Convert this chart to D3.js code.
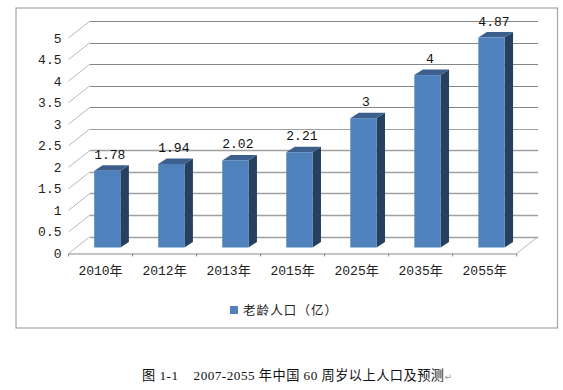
<!DOCTYPE html>
<html><head><meta charset="utf-8">
<script src="https://cdnjs.cloudflare.com/ajax/libs/d3/7.8.5/d3.min.js"></script>
<style>html,body{margin:0;padding:0;background:#fff}svg{display:block}</style></head>
<body><svg id="c" width="563" height="390"></svg>
<script>
const categories=["2010年","2012年","2013年","2015年","2025年","2035年","2055年"];
const values=[1.78,1.94,2.02,2.21,3,4,4.87];
const valueLabels=["1.78","1.94","2.02","2.21","3","4","4.87"];
const yTicks=[0,0.5,1,1.5,2,2.5,3,3.5,4,4.5,5];
const seriesName="老龄人口（亿）";
const caption="图 1-1    2007-2055 年中国 60 周岁以上人口及预测";

const svg=d3.select("#c");
const mono="'Liberation Mono','Noto Sans CJK SC',monospace";
const cjk="'Noto Sans CJK SC',sans-serif";
const x=d3.scaleBand().domain(categories).range([68.5,516.7]);
const y=d3.scaleLinear().domain([0,5]).range([253.5,38]);
const wallDx=21.5,wallDy=-17;
const barDx=8.5,barDy=-5.5,barW=26.2,barFrontDy=-6;

svg.append("rect").attr("x",16).attr("y",8).attr("width",541.5).attr("height",320)
  .attr("fill","#fff").attr("stroke","#a6a6a6").attr("stroke-width",1.2);

const grid=svg.append("g");
grid.selectAll("line.h").data(yTicks).join("line").attr("class","h")
  .attr("x1",x.range()[0]+wallDx).attr("x2",x.range()[1]+wallDx)
  .attr("y1",d=>Math.round(y(d)+wallDy)+.5).attr("y2",d=>Math.round(y(d)+wallDy)+.5)
  .attr("stroke",d=>d<=2.5?"#a0a0a0":"#868686").attr("stroke-width",d=>d<=2?1.4:1);
grid.selectAll("line.d").data(yTicks).join("line").attr("class","d")
  .attr("x1",x.range()[0]).attr("x2",x.range()[0]+wallDx)
  .attr("y1",d=>y(d)).attr("y2",d=>y(d)+wallDy)
  .attr("stroke","#b0b0b0").attr("stroke-width",.9);
grid.append("line").attr("x1",x.range()[1]).attr("x2",x.range()[1]+wallDx)
  .attr("y1",y(0)).attr("y2",y(0)+wallDy).attr("stroke","#b0b0b0").attr("stroke-width",.9);

const axisX=d3.axisBottom(x).tickSize(0).tickPadding(0);
const gx=svg.append("g").attr("transform",`translate(0,${y(0)})`).call(axisX);
gx.select(".domain").attr("stroke","#8a8a8a").attr("stroke-width",1.2);
gx.selectAll(".tick").remove();
gx.selectAll("line.t").data(categories.map((c,i)=>x.range()[0]+i*x.step()).concat(x.range()[1]))
  .join("line").attr("class","t").attr("x1",d=>d).attr("x2",d=>d).attr("y1",0).attr("y2",3)
  .attr("stroke","#8a8a8a");
gx.selectAll("text.l").data(categories).join("text").attr("class","l")
  .attr("x",d=>x(d)+x.bandwidth()/2).attr("y",21.5).attr("text-anchor","middle")
  .attr("font-family",mono).attr("font-size",13).attr("fill","#222").text(d=>d);

svg.append("g").selectAll("text").data(yTicks).join("text")
  .attr("x",61.5).attr("y",d=>y(d)+4.5).attr("text-anchor","end")
  .attr("font-family",mono).attr("font-size",13).attr("fill","#222").text(d=>String(d));

const bars=svg.append("g").selectAll("g").data(categories.map((c,i)=>({c,v:values[i],t:valueLabels[i]}))).join("g")
  .attr("transform",d=>`translate(${x(d.c)+25.7},${barFrontDy})`);
bars.append("path").attr("fill","#26405f")
  .attr("d",d=>d3.line()([[barW,y(d.v)],[barW+barDx,y(d.v)+barDy],[barW+barDx,y(0)+barDy],[barW,y(0)]])+"Z");
bars.append("path").attr("fill","#3c5f8d")
  .attr("d",d=>d3.line()([[0,y(d.v)],[barDx,y(d.v)+barDy],[barW+barDx,y(d.v)+barDy],[barW,y(d.v)]])+"Z");
bars.append("rect").attr("x",0).attr("width",barW).attr("y",d=>y(d.v)).attr("height",d=>y(0)-y(d.v))
  .attr("fill","#4f81bd");
bars.append("text").attr("x",barW/2+2.5).attr("y",d=>y(d.v)-12).attr("text-anchor","middle")
  .attr("font-family",mono).attr("font-size",13).attr("fill","#111").text(d=>d.t);

svg.append("rect").attr("x",230).attr("y",306).attr("width",8).attr("height",8).attr("fill","#4f81bd");
svg.append("text").attr("x",243).attr("y",314.5).attr("font-family",cjk).attr("font-size",12.5)
  .attr("letter-spacing",1.1).attr("fill","#222").text(seriesName);

svg.append("text").attr("x",142).attr("y",380).attr("xml:space","preserve").style("white-space","pre")
  .attr("font-family","'Liberation Serif','Noto Sans CJK SC',serif").attr("font-size",13.2)
  .attr("textLength",302).attr("lengthAdjust","spacing").attr("fill","#111").text(caption);
svg.append("text").attr("x",444.5).attr("y",380).attr("font-family","'DejaVu Sans'").attr("font-size",9).attr("fill","#999").text("↵");
</script></body></html>
